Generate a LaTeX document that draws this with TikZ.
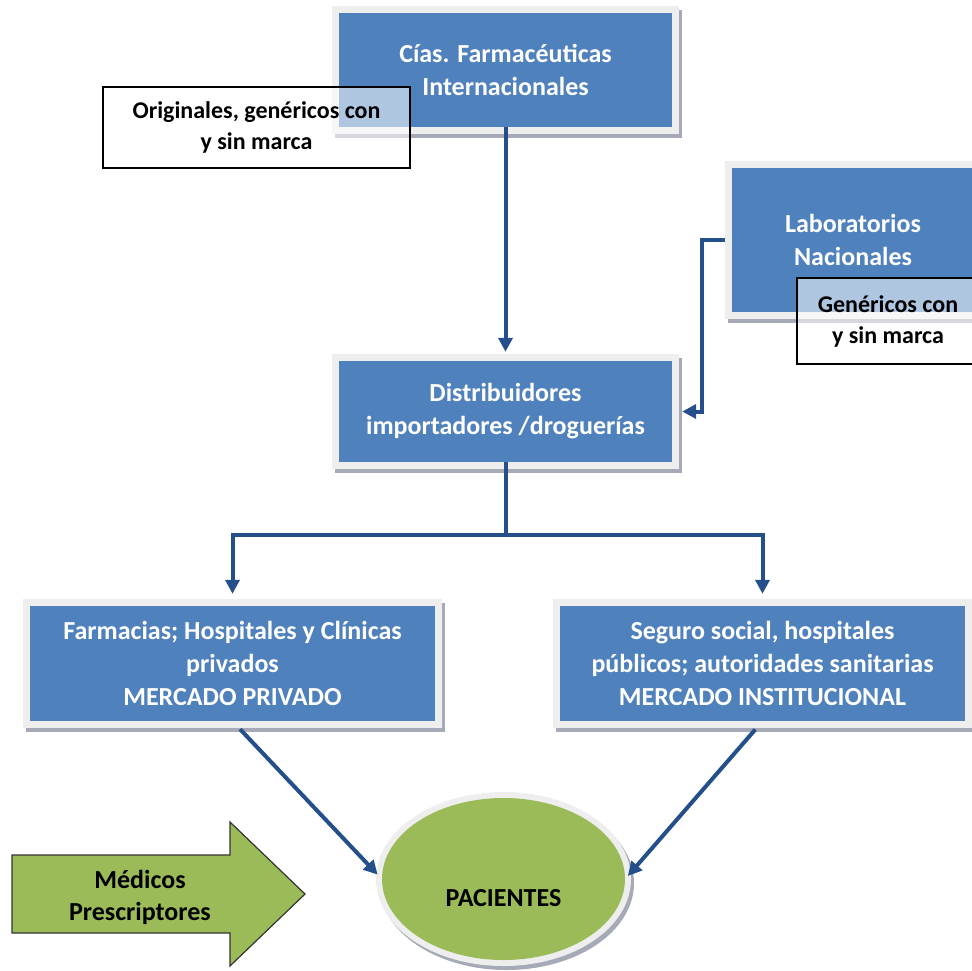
\documentclass[tikz,border=0pt]{standalone}
\usepackage{fontspec}
\setmainfont{Carlito}
\usetikzlibrary{arrows.meta,shapes.geometric,shadows}
\definecolor{boxblue}{RGB}{79,129,189}
\definecolor{lineblue}{RGB}{36,79,138}
\definecolor{framegray}{RGB}{238,238,238}
\definecolor{shadowgray}{RGB}{165,170,182}
\definecolor{leafgreen}{RGB}{155,187,89}
\begin{document}
\begin{tikzpicture}[x=1pt,y=-1pt,
  bigtext/.style={font=\fontsize{26}{33}\selectfont\bfseries},
  bluebox/.style={rectangle, fill=boxblue, text=white, bigtext, align=center, inner sep=0pt,
    drop shadow={shadow xshift=3pt, shadow yshift=-4pt, fill=shadowgray, draw=shadowgray, line width=14pt, opacity=1},
    preaction={draw=framegray, line width=14pt}},
  notebox/.style={rectangle, fill=white, fill opacity=0.55, text opacity=1, draw=black, line width=1.4pt,
    text=black, font=\fontsize{24}{31}\selectfont\bfseries, align=center, inner sep=0pt},
  conn/.style={draw=lineblue, line width=4pt, -{Triangle[length=14pt,width=14pt]}},
  plainline/.style={draw=lineblue, line width=4pt}
]
\clip (0,0) rectangle (972,970);

% blue boxes
\node[bluebox, minimum width=333pt, minimum height=114pt] (cias) at (505.5,70) {Cías. Farmacéuticas\\Internacionales};
\node[notebox, minimum width=307pt, minimum height=81pt] (orig) at (256.5,127.5) {Originales, genéricos con\\y sin marca};

\node[bluebox, minimum width=242pt, minimum height=144pt] (lab) at (853,240) {Laboratorios\\Nacionales};
\node[notebox, minimum width=182pt, minimum height=86pt] (gen) at (888,321) {Genéricos con\\y sin marca};

\node[bluebox, minimum width=333pt, minimum height=101pt] (dist) at (505.5,411.5) {Distribuidores\\importadores /droguerías};

\node[bluebox, minimum width=405pt, minimum height=115pt] (farm) at (232.5,663.5) {Farmacias; Hospitales y Clínicas\\privados\\MERCADO PRIVADO};
\node[bluebox, minimum width=405pt, minimum height=115pt] (seg) at (762.5,663.5) {Seguro social, hospitales\\públicos; autoridades sanitarias\\MERCADO INSTITUCIONAL};

% patients ellipse
\node[ellipse, fill=leafgreen, minimum width=243pt, minimum height=162pt, inner sep=0pt,
  drop shadow={shadow xshift=3pt, shadow yshift=-4pt, fill=shadowgray, draw=shadowgray, line width=12pt, opacity=1},
  preaction={draw=framegray, line width=12pt}] (pac) at (503.5,879) {};
\node[bigtext, text=black] (pactext) at (503.5,898) {PACIENTES};

% green arrow
\draw[fill=leafgreen, draw=black!80, line width=1.2pt]
  (12,855) -- (230,855) -- (230,822) -- (305,894) -- (230,966) -- (230,933) -- (12,933) -- cycle;
\node[bigtext, text=black, align=center, font=\fontsize{26}{32}\selectfont\bfseries] (med) at (140,897) {Médicos\\Prescriptores};

% connectors
\draw[conn, shorten >=9pt] (cias.south) -- (dist.north);
\draw[conn, shorten <=7pt, shorten >=10pt] (lab.west) -- ++(-30,0) |- (dist.east);
\coordinate (split) at (505.5,535);
\draw[plainline] (dist.south) -- (split);
\draw[conn, shorten >=12pt] (split) -| (farm.north);
\draw[conn, shorten >=12pt] (split) -| (seg.north);
\draw[conn, shorten <=11pt, shorten >=6pt] (farm.south) -- (pac.west);
\draw[conn, shorten <=11pt, shorten >=4pt] (seg.south) -- (pac.east);
\end{tikzpicture}
\end{document}
